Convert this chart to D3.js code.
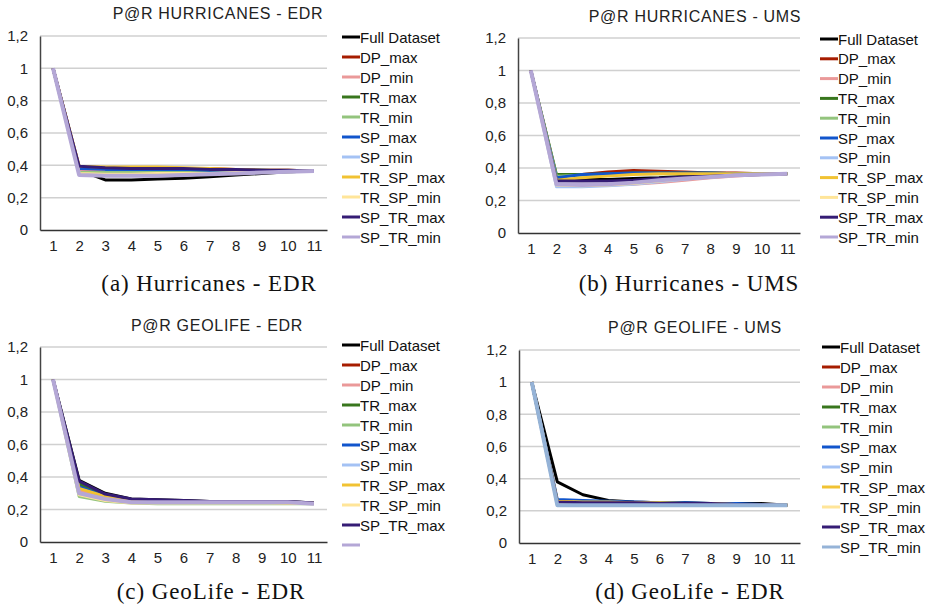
<!DOCTYPE html>
<html>
<head>
<meta charset="utf-8">
<script src="https://cdn.jsdelivr.net/npm/d3@7"></script>
<style>
  body { margin: 0; background: #fff; }
  text { font-family: "Liberation Sans", Arial, sans-serif; }
  .caption { font-family: "Liberation Serif", "DejaVu Serif", serif; }
</style>
</head>
<body>
<svg id="my-svg"></svg>
<script>
/*
four precision@recall panels, drawn with d3 the plain way
*/

// ---- data ----
const ranks = [1, 2, 3, 4, 5, 6, 7, 8, 9, 10, 11];
const yTicks = [0, 0.2, 0.4, 0.6, 0.8, 1, 1.2];
const seriesNames = ["Full Dataset", "DP_max", "DP_min", "TR_max", "TR_min", "SP_max", "SP_min",
                     "TR_SP_max", "TR_SP_min", "SP_TR_max", "SP_TR_min"];
const titles = ["P@R HURRICANES - EDR", "P@R HURRICANES - UMS", "P@R GEOLIFE - EDR", "P@R GEOLIFE - UMS"];
const captions = ["(a) Hurricanes - EDR", "(b) Hurricanes - UMS", "(c) GeoLife - EDR", "(d) GeoLife - EDR"];

const hurEdr = [
  [1, 0.37, 0.31, 0.31, 0.315, 0.32, 0.33, 0.34, 0.35, 0.36, 0.365],
  [1, 0.39, 0.385, 0.385, 0.385, 0.38, 0.38, 0.375, 0.37, 0.37, 0.365],
  [1, 0.37, 0.365, 0.365, 0.365, 0.365, 0.365, 0.365, 0.365, 0.365, 0.365],
  [1, 0.385, 0.38, 0.38, 0.38, 0.375, 0.375, 0.37, 0.37, 0.365, 0.365],
  [1, 0.355, 0.355, 0.355, 0.355, 0.355, 0.355, 0.36, 0.36, 0.36, 0.365],
  [1, 0.38, 0.375, 0.375, 0.375, 0.375, 0.37, 0.37, 0.37, 0.365, 0.365],
  [1, 0.345, 0.34, 0.34, 0.345, 0.345, 0.35, 0.35, 0.355, 0.36, 0.365],
  [1, 0.395, 0.39, 0.39, 0.39, 0.385, 0.38, 0.375, 0.37, 0.37, 0.365],
  [1, 0.35, 0.345, 0.345, 0.35, 0.35, 0.35, 0.355, 0.36, 0.36, 0.365],
  [1, 0.395, 0.385, 0.38, 0.38, 0.38, 0.375, 0.375, 0.37, 0.37, 0.365],
  [1, 0.34, 0.335, 0.335, 0.335, 0.34, 0.345, 0.35, 0.355, 0.36, 0.365]
];
const hurUms = [
  [1, 0.33, 0.33, 0.33, 0.335, 0.34, 0.35, 0.355, 0.36, 0.365, 0.365],
  [1, 0.35, 0.36, 0.375, 0.385, 0.38, 0.375, 0.37, 0.37, 0.365, 0.365],
  [1, 0.30, 0.29, 0.295, 0.30, 0.31, 0.325, 0.34, 0.35, 0.36, 0.365],
  [1, 0.36, 0.36, 0.365, 0.37, 0.37, 0.37, 0.37, 0.365, 0.365, 0.365],
  [1, 0.35, 0.355, 0.36, 0.365, 0.365, 0.365, 0.365, 0.365, 0.365, 0.365],
  [1, 0.34, 0.36, 0.365, 0.37, 0.37, 0.37, 0.37, 0.365, 0.365, 0.365],
  [1, 0.285, 0.285, 0.29, 0.30, 0.315, 0.33, 0.345, 0.355, 0.36, 0.365],
  [1, 0.325, 0.34, 0.35, 0.36, 0.365, 0.365, 0.365, 0.365, 0.365, 0.365],
  [1, 0.295, 0.29, 0.295, 0.305, 0.32, 0.335, 0.345, 0.355, 0.36, 0.365],
  [1, 0.32, 0.32, 0.32, 0.325, 0.335, 0.345, 0.35, 0.355, 0.36, 0.365],
  [1, 0.30, 0.295, 0.30, 0.31, 0.325, 0.335, 0.345, 0.355, 0.36, 0.365]
];
const geoEdr = [
  [1, 0.38, 0.30, 0.265, 0.26, 0.255, 0.25, 0.25, 0.25, 0.25, 0.24],
  [1, 0.35, 0.29, 0.26, 0.255, 0.25, 0.25, 0.25, 0.245, 0.245, 0.24],
  [1, 0.32, 0.27, 0.25, 0.245, 0.245, 0.245, 0.245, 0.245, 0.24, 0.24],
  [1, 0.36, 0.29, 0.26, 0.255, 0.25, 0.25, 0.25, 0.245, 0.245, 0.24],
  [1, 0.28, 0.25, 0.24, 0.235, 0.235, 0.235, 0.235, 0.235, 0.235, 0.235],
  [1, 0.34, 0.28, 0.255, 0.25, 0.25, 0.245, 0.245, 0.245, 0.245, 0.24],
  [1, 0.30, 0.26, 0.245, 0.24, 0.24, 0.24, 0.24, 0.24, 0.24, 0.235],
  [1, 0.33, 0.28, 0.255, 0.25, 0.245, 0.245, 0.245, 0.245, 0.24, 0.24],
  [1, 0.29, 0.255, 0.24, 0.24, 0.24, 0.24, 0.24, 0.24, 0.24, 0.235],
  [1, 0.375, 0.295, 0.265, 0.26, 0.255, 0.25, 0.25, 0.25, 0.25, 0.24],
  [1, 0.30, 0.265, 0.245, 0.245, 0.245, 0.245, 0.245, 0.245, 0.245, 0.235]
];
const geoUms = [
  [1, 0.38, 0.30, 0.265, 0.255, 0.25, 0.25, 0.245, 0.245, 0.245, 0.235],
  [1, 0.255, 0.255, 0.255, 0.25, 0.25, 0.245, 0.245, 0.24, 0.24, 0.235],
  [1, 0.245, 0.245, 0.245, 0.245, 0.24, 0.24, 0.24, 0.24, 0.24, 0.235],
  [1, 0.26, 0.255, 0.255, 0.25, 0.25, 0.245, 0.245, 0.24, 0.24, 0.235],
  [1, 0.245, 0.24, 0.24, 0.24, 0.24, 0.24, 0.24, 0.24, 0.24, 0.235],
  [1, 0.27, 0.265, 0.26, 0.255, 0.25, 0.25, 0.245, 0.245, 0.24, 0.235],
  [1, 0.24, 0.24, 0.24, 0.24, 0.24, 0.24, 0.24, 0.24, 0.24, 0.235],
  [1, 0.26, 0.255, 0.255, 0.25, 0.25, 0.245, 0.245, 0.24, 0.24, 0.235],
  [1, 0.245, 0.24, 0.24, 0.24, 0.24, 0.24, 0.24, 0.24, 0.24, 0.235],
  [1, 0.255, 0.25, 0.25, 0.25, 0.245, 0.245, 0.245, 0.24, 0.24, 0.235],
  [1, 0.235, 0.235, 0.235, 0.235, 0.235, 0.235, 0.235, 0.235, 0.235, 0.235]
];

const colors = ["#000000", "#a61c00", "#ea9999", "#38761d", "#93c47d", "#1155cc", "#a4c2f4",
                "#f1c232", "#ffe599", "#351c75", "#b4a7d6"];
const colorsD = colors.slice(0, 10).concat(["#95b3d7"]);

// ---- layout ----
const panels = [
  { data: hurEdr, x0: 40,  x1: 327, yt: 36,  yb: 230, tx: 218, ty: 19,  lx: 342, ly: 37,  ld: 20,   labels: seriesNames, col: colors,  cx: 209, cy: 291 },
  { data: hurUms, x0: 518, x1: 800, yt: 38,  yb: 233, tx: 695, ty: 22,  lx: 820, ly: 39,  ld: 19.8, labels: seriesNames, col: colors,  cx: 689, cy: 291 },
  { data: geoEdr, x0: 40,  x1: 327, yt: 347, yb: 542, tx: 217, ty: 331, lx: 342, ly: 345, ld: 20,   labels: seriesNames.slice(0, 10).concat([""]), col: colors, cx: 211, cy: 599 },
  { data: geoUms, x0: 519, x1: 800, yt: 350, yb: 543, tx: 695, ty: 333, lx: 822, ly: 347, ld: 20,   labels: seriesNames, col: colorsD, cx: 690, cy: 599 }
];

let oSvg = d3.select("#my-svg")
      .attr('height', '609')
      .attr('width', '934');

const commaFmt = d3.formatLocale({ decimal: ",", thousands: ".", grouping: [3], currency: ["", ""] }).format(".1~f");

panels.forEach((p, k) => drawPanel(p, k));

function drawPanel(p, k){
    let g = oSvg.append('g');

    let x = d3.scalePoint().domain(ranks).range([p.x0, p.x1]).padding(0.5);
    let y = d3.scaleLinear().domain([0, 1.2]).range([p.yb, p.yt]);

    // gridlines
    g.selectAll('line.grid')
        .data(yTicks.filter(t => t > 0))
        .enter().append('line')
            .attr('class', 'grid')
            .attr('x1', p.x0)
            .attr('x2', p.x1)
            .attr('y1', d => y(d))
            .attr('y2', d => y(d))
            .attr('stroke', '#d0d0d0')
            .attr('stroke-width', 1.5);

    // y axis
    let ya = g.append('g')
        .attr('transform', `translate(${p.x0},0)`)
        .call(d3.axisLeft(y).tickValues(yTicks).tickFormat(commaFmt).tickSize(0).tickPadding(12));
    ya.select('.domain').attr('stroke', '#444').attr('stroke-width', 1.5);
    ya.selectAll('text').attr('font-size', 15).attr('fill', '#222');

    // x axis
    let xa = g.append('g')
        .attr('transform', `translate(0,${p.yb})`)
        .call(d3.axisBottom(x).tickSize(0).tickPadding(10));
    xa.select('.domain').attr('stroke', '#333').attr('stroke-width', 1.5);
    xa.selectAll('text').attr('font-size', 15).attr('fill', '#222');

    // lines
    let line = d3.line()
        .x((d, i) => x(ranks[i]))
        .y(d => y(d));

    g.selectAll('path.series')
        .data(p.data)
        .enter().append('path')
            .attr('class', 'series')
            .attr('d', d => line(d))
            .attr('fill', 'none')
            .attr('stroke', (d, i) => p.col[i])
            .attr('stroke-width', (d, i) => i === 10 ? 4 : 3)
            .attr('stroke-linejoin', 'round');

    // title
    g.append('text')
        .attr('x', p.tx)
        .attr('y', p.ty)
        .attr('text-anchor', 'middle')
        .attr('font-size', 16)
        .attr('letter-spacing', 0.7)
        .attr('fill', '#222')
        .text(titles[k]);

    // legend
    let lg = g.selectAll('g.leg')
        .data(p.labels)
        .enter().append('g')
            .attr('class', 'leg')
            .attr('transform', (d, i) => `translate(${p.lx},${p.ly + i * p.ld})`);
    lg.append('line')
        .attr('x1', 0).attr('x2', 18)
        .attr('y1', 0).attr('y2', 0)
        .attr('stroke', (d, i) => p.col[i])
        .attr('stroke-width', 3);
    lg.append('text')
        .attr('x', 18)
        .attr('y', 5.5)
        .attr('font-size', 15)
        .attr('fill', '#111')
        .text(d => d);

    // caption
    oSvg.append('text')
        .attr('class', 'caption')
        .attr('x', p.cx)
        .attr('y', p.cy)
        .attr('text-anchor', 'middle')
        .attr('font-size', 23)
        .attr('letter-spacing', 0.9)
        .attr('fill', '#111')
        .text(captions[k]);
}
</script>
</body>
</html>
